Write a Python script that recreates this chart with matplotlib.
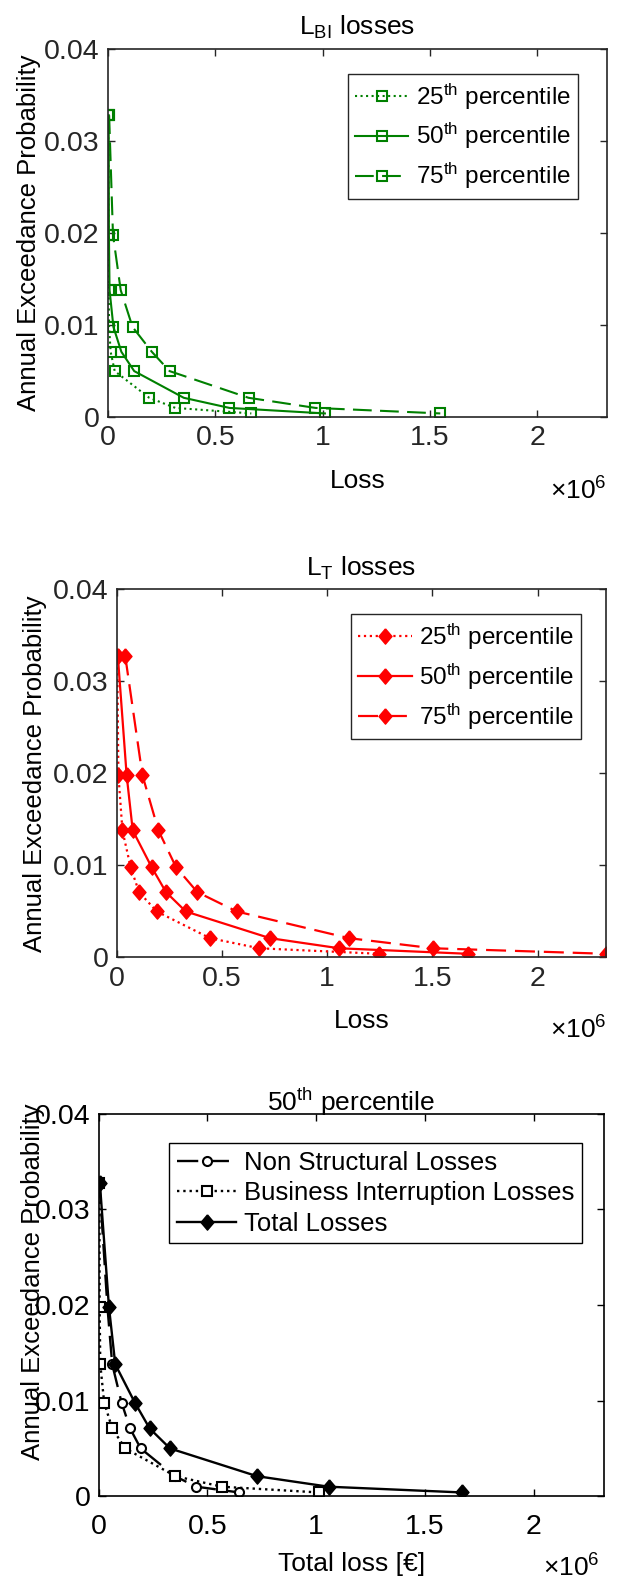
import numpy as np
import matplotlib
matplotlib.use("Agg")
import matplotlib.pyplot as plt
from matplotlib.ticker import FuncFormatter

plt.rcParams['font.family'] = ['Liberation Sans', 'DejaVu Sans']
plt.rcParams['mathtext.fontset'] = 'custom'
plt.rcParams['mathtext.rm'] = 'Liberation Sans'
plt.rcParams['mathtext.it'] = 'Liberation Sans'
plt.rcParams['mathtext.default'] = 'regular'

# annual exceedance probability levels (same for every curve)
aep = [0.0328, 0.0198, 0.0138, 0.0098, 0.0071, 0.0050, 0.0021, 0.0010, 0.0004]

# business interruption losses, percentiles
bi_25 = [1e3, 2e3, 3e3, 5e3, 12e3, 31e3, 192e3, 314e3, 668e3]
bi_50 = [3e3, 4e3, 7e3, 25e3, 62e3, 122e3, 353e3, 566e3, 1011e3]
bi_75 = [5e3, 23e3, 59e3, 114e3, 204e3, 287e3, 655e3, 967e3, 1549e3]

# total losses, percentiles
lt_25 = [2e3, 8e3, 27e3, 66e3, 106e3, 190e3, 443e3, 677e3, 1247e3]
lt_50 = [5e3, 47e3, 76e3, 166e3, 234e3, 328e3, 728e3, 1057e3, 1669e3]
lt_75 = [40e3, 122e3, 198e3, 282e3, 383e3, 570e3, 1103e3, 1503e3, 2325e3]

# non structural losses, 50th percentile
ns_50 = [3e3, 40e3, 62e3, 105e3, 144e3, 193e3, 350e3, 449e3, 645e3]

pct_labels = [r'25$^{th}$ percentile', r'50$^{th}$ percentile', r'75$^{th}$ percentile']
cmp_labels = ['Non Structural Losses', 'Business Interruption Losses', 'Total Losses']

xmax = 2.325e6
xticks = [0, 0.5e6, 1e6, 1.5e6, 2e6]
yticks = [0, 0.01, 0.02, 0.03, 0.04]

diamond = [(0, 1), (0.85, 0), (0, -1), (-0.85, 0), (0, 1)]
dash = (9, 4)
green = (0, 0.5, 0)


def style_axes(ax, col, xpad=6):
    ax.set_xlim(0, xmax)
    ax.set_ylim(0, 0.04)
    ax.set_xticks(xticks)
    ax.set_yticks(yticks)
    ax.xaxis.set_major_formatter(FuncFormatter(lambda v, p: f'{v / 1e6:g}'))
    ax.yaxis.set_major_formatter(FuncFormatter(lambda v, p: f'{v:g}'))
    ax.tick_params(direction='in', top=True, right=True, length=5, width=1,
                   labelsize=20.5, colors=col)
    ax.tick_params(axis='x', pad=xpad)
    ax.tick_params(axis='y', pad=6)
    for s in ax.spines.values():
        s.set_color(col)
        s.set_linewidth(1.2)


fig = plt.figure(figsize=(6.21, 15.8), dpi=100)

# ---- panel 1: L_BI
ax1 = fig.add_axes([0.174, 0.736, 0.803, 0.233])
ax1.plot(bi_25, aep, ':', color=green, lw=1.5, marker='s', ms=7.5, mfc='none', mew=1.5, label=pct_labels[0])
ax1.plot(bi_50, aep, '-', color=green, lw=1.5, marker='s', ms=7.5, mfc='none', mew=1.5, label=pct_labels[1])
ax1.plot(bi_75, aep, '--', color=green, lw=1.5, marker='s', ms=7.5, mfc='none', mew=1.5, dashes=dash, label=pct_labels[2])
style_axes(ax1, '0.15')
ax1.set_title(r'L$_{BI}$ losses', fontsize=19, pad=10)
ax1.set_xlabel('Loss', fontsize=19, color='k')
ax1.set_ylabel('Annual Exceedance Probability', fontsize=18.5, color='k')
ax1.xaxis.set_label_coords(0.5, -0.14)
ax1.yaxis.set_label_coords(-0.134, 0.5)
ax1.text(1.0, -0.2, r'$\times10^{6}$', transform=ax1.transAxes, ha='right', va='center', fontsize=19)
leg = ax1.legend(loc='upper right', bbox_to_anchor=(0.942, 0.932), borderaxespad=0, fontsize=17.5,
                 handlelength=2.2, handletextpad=0.3, fancybox=False, framealpha=1,
                 edgecolor='0.15', labelspacing=0.4, borderpad=0.3)
leg.get_frame().set_linewidth(1)

# ---- panel 2: L_T
ax2 = fig.add_axes([0.188, 0.394, 0.788, 0.233])
ax2.plot(lt_25, aep, ':', color='red', lw=1.6, marker=diamond, ms=11, label=pct_labels[0])
ax2.plot(lt_50, aep, '-', color='red', lw=1.6, marker=diamond, ms=11, label=pct_labels[1])
ax2.plot(lt_75, aep, '--', color='red', lw=1.6, marker=diamond, ms=11, dashes=dash, label=pct_labels[2])
style_axes(ax2, '0.15')
ax2.set_title(r'L$_{T}$ losses', fontsize=19, pad=10)
ax2.set_xlabel('Loss', fontsize=19, color='k')
ax2.set_ylabel('Annual Exceedance Probability', fontsize=18.5, color='k')
ax2.xaxis.set_label_coords(0.5, -0.14)
ax2.yaxis.set_label_coords(-0.143, 0.5)
ax2.text(1.0, -0.198, r'$\times10^{6}$', transform=ax2.transAxes, ha='right', va='center', fontsize=19)
leg = ax2.legend(loc='upper right', bbox_to_anchor=(0.949, 0.932), borderaxespad=0, fontsize=17.5,
                 handlelength=2.2, handletextpad=0.3, fancybox=False, framealpha=1,
                 edgecolor='0.15', labelspacing=0.4, borderpad=0.3)
leg.get_frame().set_linewidth(1)

# ---- panel 3: 50th percentile comparison
ax3 = fig.add_axes([0.159, 0.053, 0.814, 0.242])
ax3.plot(ns_50, aep, '--', color='k', lw=1.7, marker='o', ms=6.5, mfc='white', mew=1.5, dashes=dash, label=cmp_labels[0])
ax3.plot(bi_50, aep, ':', color='k', lw=1.7, marker='s', ms=6.5, mfc='white', mew=1.5, label=cmp_labels[1])
ax3.plot(lt_50, aep, '-', color='k', lw=1.7, marker=diamond, ms=11, label=cmp_labels[2])
style_axes(ax3, 'k', xpad=13)
ax3.set_title(r'50$^{th}$ percentile', fontsize=19, pad=2)
ax3.set_xlabel('Total loss [€]', fontsize=19, color='k')
ax3.set_ylabel('Annual Exceedance Probability', fontsize=18.5, color='k')
ax3.xaxis.set_label_coords(0.5, -0.145)
ax3.yaxis.set_label_coords(-0.107, 0.56)
ax3.text(0.99, -0.188, r'$\times10^{6}$', transform=ax3.transAxes, ha='right', va='center', fontsize=19)
leg = ax3.legend(loc='upper right', bbox_to_anchor=(0.956, 0.924), borderaxespad=0, fontsize=18.5,
                 handlelength=2.3, handletextpad=0.3, fancybox=False, framealpha=1,
                 edgecolor='k', labelspacing=0.25, borderpad=0.3)
leg.get_frame().set_linewidth(1)

fig.savefig('out.png', dpi=100)
